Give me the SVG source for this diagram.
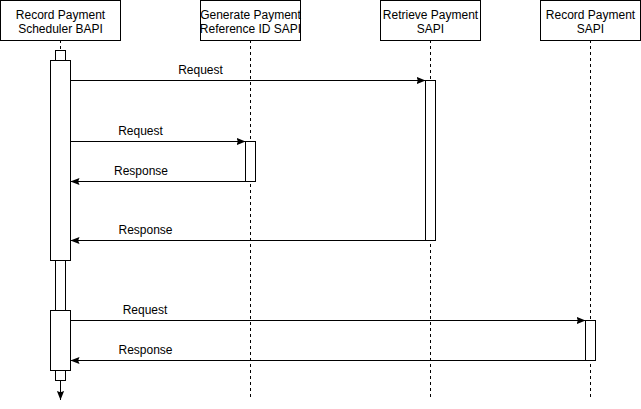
<svg xmlns="http://www.w3.org/2000/svg" width="641" height="409" viewBox="0 0 641 409">
<style>
.box{fill:#fff;stroke:#000;stroke-width:1}
.life{stroke:#000;stroke-width:1;stroke-dasharray:3 3;fill:none}
.msg{stroke:#000;stroke-width:1;fill:none}
.t{font-family:"Liberation Sans",Arial,Helvetica,sans-serif;font-size:12px;fill:#000;text-anchor:middle}
</style>
<defs>
<marker id="ah" viewBox="0 0 10 10" refX="10" refY="5" markerWidth="9" markerHeight="9" markerUnits="userSpaceOnUse" orient="auto">
<path d="M0,1 L10,5 L0,9 L1.5,5 Z" fill="#000"/>
</marker>
</defs>
<g id="lifelines">
<line class="life" x1="60.5" y1="40" x2="60.5" y2="50"/>
<line class="life" x1="250.5" y1="40" x2="250.5" y2="400"/>
<line class="life" x1="430.5" y1="40" x2="430.5" y2="400"/>
<line class="life" x1="590.5" y1="40" x2="590.5" y2="400"/>
</g>
<g id="n1">
<rect class="box" x="0.5" y="0.5" width="120" height="40"/>
<text class="t" x="60.5" y="18.5">Record Payment</text>
<text class="t" x="60.5" y="32.5">Scheduler BAPI</text>
</g>
<g id="n2">
<rect class="box" x="200.5" y="0.5" width="100" height="40"/>
<text class="t" x="250.5" y="18.5">Generate Payment</text>
<text class="t" x="250.5" y="32.5">Reference ID SAPI</text>
</g>
<g id="n3">
<rect class="box" x="380.5" y="0.5" width="100" height="40"/>
<text class="t" x="430.5" y="18.5">Retrieve Payment</text>
<text class="t" x="430.5" y="32.5">SAPI</text>
</g>
<g id="n4">
<rect class="box" x="540.5" y="0.5" width="100" height="40"/>
<text class="t" x="590.5" y="18.5">Record Payment</text>
<text class="t" x="590.5" y="32.5">SAPI</text>
</g>
<g id="activations">
<rect class="box" x="55.5" y="50.5" width="10" height="10"/>
<rect class="box" x="55.5" y="260.5" width="10" height="50"/>
<rect class="box" x="55.5" y="370.5" width="10" height="10"/>
<rect class="box" x="50.5" y="60.5" width="20" height="200"/>
<rect class="box" x="50.5" y="310.5" width="20" height="60"/>
<rect class="box" x="245.5" y="141.5" width="10" height="40"/>
<rect class="box" x="425.5" y="80.5" width="10" height="160"/>
<rect class="box" x="585.5" y="320.5" width="10" height="40"/>
</g>
<g id="connectors">
<line class="msg" x1="60.5" y1="380.5" x2="60.5" y2="400" marker-end="url(#ah)"/>
<line class="msg" x1="70.5" y1="80.5" x2="425.5" y2="80.5" marker-end="url(#ah)"/>
<line class="msg" x1="70.5" y1="141.5" x2="245.5" y2="141.5" marker-end="url(#ah)"/>
<line class="msg" x1="245.5" y1="181.5" x2="70.5" y2="181.5" marker-end="url(#ah)"/>
<line class="msg" x1="425.5" y1="240.5" x2="70.5" y2="240.5" marker-end="url(#ah)"/>
<line class="msg" x1="70.5" y1="320.5" x2="585.5" y2="320.5" marker-end="url(#ah)"/>
<line class="msg" x1="585.5" y1="360.5" x2="70.5" y2="360.5" marker-end="url(#ah)"/>
<text class="t" x="200.5" y="74">Request</text>
<text class="t" x="140.5" y="135">Request</text>
<text class="t" x="141" y="175">Response</text>
<text class="t" x="145.5" y="234">Response</text>
<text class="t" x="145" y="314">Request</text>
<text class="t" x="145.5" y="354">Response</text>
</g>
</svg>
